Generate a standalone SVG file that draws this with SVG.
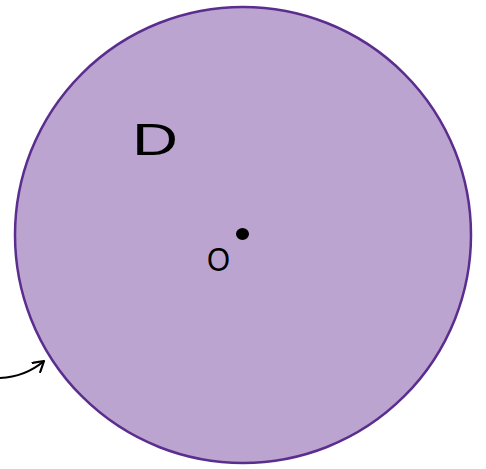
<svg xmlns="http://www.w3.org/2000/svg" width="486" height="469" viewBox="0 0 486 469">
<style>
.lbl{font-family:"Liberation Sans","DejaVu Sans",sans-serif;fill:#000}
</style>
<defs>
<marker id="ah" markerWidth="14" markerHeight="14" refX="11" refY="7" orient="auto" markerUnits="userSpaceOnUse">
<path d="M1,1 L11,7 L1,13" fill="none" stroke="#000" stroke-width="2.2" stroke-linecap="round" stroke-linejoin="round"/>
</marker>
</defs>
<g id="disk">
<circle cx="243" cy="235" r="228" fill="#bba5d0" stroke="#5b2d8e" stroke-width="2.5"/>
</g>
<g id="label-D">
<text class="lbl" x="132" y="155" font-size="44" textLength="46" lengthAdjust="spacingAndGlyphs">D</text>
</g>
<g id="center">
<ellipse cx="242.5" cy="234" rx="6.5" ry="6" fill="#000"/>
<text class="lbl" x="207" y="271" font-size="33" textLength="23" lengthAdjust="spacingAndGlyphs">O</text>
</g>
<g id="connectors">
<path d="M0,378 Q25,377 44,361" fill="none" stroke="#000" stroke-width="2.2" marker-end="url(#ah)"/>
</g>
</svg>
